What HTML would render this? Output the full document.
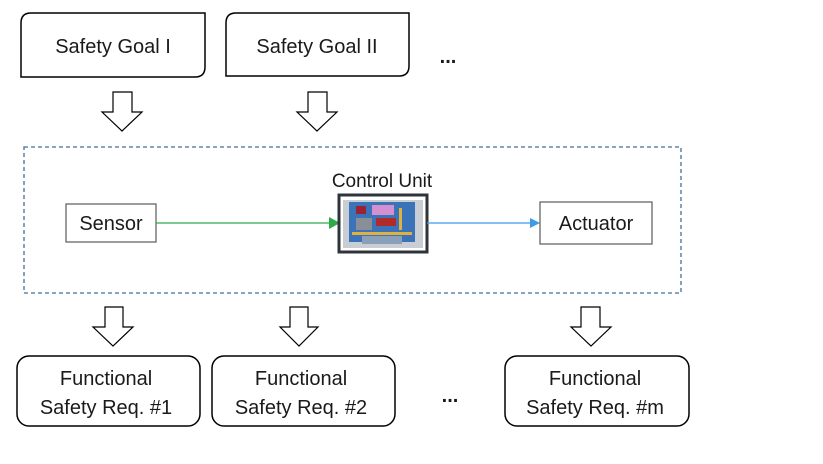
<!DOCTYPE html>
<html><head><meta charset="utf-8"><style>
html,body{margin:0;padding:0;background:#fff;}
svg{display:block;}
text{font-family:"Liberation Sans",sans-serif;fill:#1a1a1a;}
</style></head><body>
<svg width="823" height="464" viewBox="0 0 823 464" xmlns="http://www.w3.org/2000/svg">
<path d="M31,13 H205 V67 Q205,77 195,77 H21 V23 Q21,13 31,13 Z" fill="#fff" stroke="#000" stroke-width="1.5"/>
<text x="113" y="53" font-size="20" text-anchor="middle">Safety Goal I</text>
<path d="M236,13 H409 V66 Q409,76 399,76 H226 V23 Q226,13 236,13 Z" fill="#fff" stroke="#000" stroke-width="1.5"/>
<text x="317" y="53" font-size="20" text-anchor="middle">Safety Goal II</text>
<text x="448" y="63" font-size="20" font-weight="bold" text-anchor="middle">...</text>
<path d="M113,92 H132 V112 H142 L122,131 L102,112 H113 Z" fill="#fff" stroke="#000" stroke-width="1.2"/>
<path d="M308,92 H327 V112 H337 L317,131 L297,112 H308 Z" fill="#fff" stroke="#000" stroke-width="1.2"/>
<rect x="24" y="147" width="657" height="146" fill="none" stroke="#41719c" stroke-width="1.3" stroke-dasharray="4,3"/>
<text x="382" y="187" font-size="19" text-anchor="middle">Control Unit</text>
<rect x="66" y="204" width="90" height="38" fill="#fff" stroke="#595959" stroke-width="1.2"/>
<text x="111" y="230" font-size="20" text-anchor="middle">Sensor</text>
<line x1="156" y1="223" x2="330" y2="223" stroke="#2eaa4a" stroke-width="1.2"/>
<polygon points="340,223 329,217 329,229" fill="#2eaa4a"/>
<rect x="339" y="195" width="88" height="57" fill="#fff" stroke="#2f343b" stroke-width="3"/>
<rect x="343" y="200" width="80" height="48" fill="#c9ced4"/>
<rect x="349" y="202" width="66" height="40" fill="#3b73b9"/>
<rect x="372" y="205" width="22" height="10" fill="#d48fd0"/>
<rect x="356" y="206" width="10" height="8" fill="#9a2233"/>
<rect x="356" y="218" width="16" height="12" fill="#8a8f97"/>
<rect x="376" y="218" width="20" height="8" fill="#b02a2a"/>
<rect x="352" y="232" width="60" height="3" fill="#e0b040"/>
<rect x="399" y="208" width="3" height="22" fill="#e0b040"/>
<rect x="362" y="236" width="40" height="8" fill="#8aa0b8"/>
<line x1="427" y1="223" x2="530" y2="223" stroke="#3d9be9" stroke-width="1.2"/>
<polygon points="540,223 530,218 530,228" fill="#3d9be9"/>
<rect x="540" y="202" width="112" height="42" fill="#fff" stroke="#595959" stroke-width="1.2"/>
<text x="596" y="230" font-size="20" text-anchor="middle">Actuator</text>
<path d="M105,307 H123 V327 H133 L113,346 L93,327 H105 Z" fill="#fff" stroke="#000" stroke-width="1.2"/>
<path d="M290,307 H308 V327 H318 L299,346 L280,327 H290 Z" fill="#fff" stroke="#000" stroke-width="1.2"/>
<path d="M581,307 H600 V327 H611 L591,346 L571,327 H581 Z" fill="#fff" stroke="#000" stroke-width="1.2"/>
<rect x="17" y="356" width="183" height="70" rx="12" fill="#fff" stroke="#000" stroke-width="1.5"/>
<text x="106" y="385" font-size="20" text-anchor="middle">Functional</text>
<text x="106" y="414" font-size="20" text-anchor="middle">Safety Req. #1</text>
<rect x="212" y="356" width="183" height="70" rx="12" fill="#fff" stroke="#000" stroke-width="1.5"/>
<text x="301" y="385" font-size="20" text-anchor="middle">Functional</text>
<text x="301" y="414" font-size="20" text-anchor="middle">Safety Req. #2</text>
<text x="450" y="402" font-size="20" font-weight="bold" text-anchor="middle">...</text>
<rect x="505" y="356" width="184" height="70" rx="12" fill="#fff" stroke="#000" stroke-width="1.5"/>
<text x="595" y="385" font-size="20" text-anchor="middle">Functional</text>
<text x="595" y="414" font-size="20" text-anchor="middle">Safety Req. #m</text>
</svg>
</body></html>
